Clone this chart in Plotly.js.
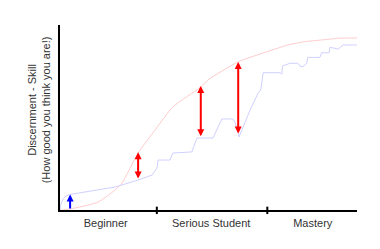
<!DOCTYPE html>
<html>
<head>
<meta charset="utf-8">
<script src="https://cdn.plot.ly/plotly-3.0.1.min.js"></script>
<style>html,body{margin:0;padding:0;background:#fff;}#chart{width:380px;height:249px;}</style>
</head>
<body>
<div id="chart"></div>
<script>
// Actual skill (blue) and perceived skill (pink), x = experience (0-100)
const actualX = [0, 0.3, 1.0, 2.0, 3.4, 18.5, 26.3, 31.0, 32.7, 33.0, 37.0, 37.7, 38.0, 44.4, 46.1, 51.5, 54.5, 58.2, 58.9, 60.3, 61.6, 64.0, 66.7, 67.6, 68.4, 74.1, 74.7, 74.9, 77.4, 80.1, 80.8, 81.8, 83.1, 83.4, 87.5, 88.1, 90.6, 90.9, 92.6, 93.6, 95.3, 100];
const actualY = [0, 3.2, 5.9, 7.6, 8.4, 12.4, 16.2, 18.9, 22.7, 27.0, 27.0, 29.7, 30.8, 31.4, 38.9, 38.9, 49.2, 49.2, 47.6, 39.5, 44.9, 54.1, 63.2, 64.9, 74.2, 74.2, 73.5, 77.8, 79.3, 79.3, 77.8, 77.5, 79.3, 82.5, 82.5, 85.0, 85.0, 87.9, 87.4, 86.9, 89.2, 89.2];
const perceivedX = [0, 1.0, 5.1, 12.8, 18.5, 20.9, 26.3, 32.0, 38.0, 47.4, 49.8, 59.9, 67.3, 76.8, 82.5, 88.1, 93.6, 100];
const perceivedY = [0, 0, 1.1, 4.3, 10.8, 14.6, 30.8, 43.2, 55.7, 66.5, 70.3, 80.0, 84.3, 89.2, 91.0, 91.9, 92.8, 93.0];

// Gap arrows (red, double headed) and the start arrow (blue)
const gapX = [26.3, 47.4, 60.0];
const gapLow = [16.2, 39.1, 40.5];
const gapHigh = [31.2, 67.0, 80.0];
const startX = [3.4];
const startLow = [0];
const startHigh = [8.4];

// Stages
const stageNames = ['Beginner', 'Serious Student', 'Mastery'];
const stageLabelX = [15.4, 50.9, 85.1];
const stageBounds = [32.6, 69.8];

const yTitle = ['Discernment - Skill', '(How good you think you are!)'];

const FONT = 'Liberation Sans, Arial, sans-serif';

const traces = [
  {x: perceivedX, y: perceivedY, mode: 'lines', line: {color: '#ffcccc', width: 1, shape: 'spline', smoothing: 0.6}, hoverinfo: 'skip'},
  {x: actualX, y: actualY, mode: 'lines', line: {color: '#d0d0ff', width: 1}, hoverinfo: 'skip'}
];

const annotations = [];
gapX.forEach((x, i) => {
  annotations.push({
    x: x, y: gapHigh[i], ax: x, ay: gapLow[i],
    xref: 'x', yref: 'y', axref: 'x', ayref: 'y',
    text: '', showarrow: true, arrowside: 'end+start',
    arrowhead: 2, startarrowhead: 2, arrowsize: 0.7, startarrowsize: 0.7,
    arrowwidth: 2, arrowcolor: '#ff0000', standoff: 0, startstandoff: 0
  });
});
startX.forEach((x, i) => {
  annotations.push({
    x: x, y: startHigh[i], ax: x, ay: startLow[i],
    xref: 'x', yref: 'y', axref: 'x', ayref: 'y',
    text: '', showarrow: true, arrowhead: 2, arrowsize: 0.7,
    arrowwidth: 2, arrowcolor: '#0000ff', standoff: 0
  });
});
annotations.push({
  text: yTitle.join('<br>'), textangle: -90,
  xref: 'paper', yref: 'paper', x: -0.07, y: 0.54,
  xanchor: 'center', yanchor: 'middle', showarrow: false,
  font: {family: FONT, size: 11, color: '#333333'}
});

const shapes = stageBounds.map(b => ({
  type: 'line', xref: 'x', yref: 'paper', x0: b, x1: b, y0: -0.022, y1: 0.018,
  line: {color: '#000000', width: 2}
}));

const layout = {
  width: 380, height: 249,
  margin: {l: 60, r: 23, t: 25, b: 39, pad: 0},
  paper_bgcolor: '#ffffff', plot_bgcolor: '#ffffff',
  showlegend: false,
  font: {family: FONT, size: 11, color: '#333333'},
  xaxis: {
    range: [0, 100], showgrid: false, zeroline: false,
    showline: true, linecolor: '#000000', linewidth: 2,
    tickmode: 'array', tickvals: stageLabelX, ticktext: stageNames,
    ticks: '', ticklabelstandoff: 2,
    tickfont: {family: FONT, size: 11, color: '#333333'},
    fixedrange: true
  },
  yaxis: {
    range: [0, 100], showgrid: false, zeroline: false,
    showline: true, linecolor: '#000000', linewidth: 2,
    showticklabels: false, ticks: '', fixedrange: true
  },
  annotations: annotations,
  shapes: shapes
};

Plotly.newPlot('chart', traces, layout, {displayModeBar: false, staticPlot: true});
</script>
</body>
</html>
